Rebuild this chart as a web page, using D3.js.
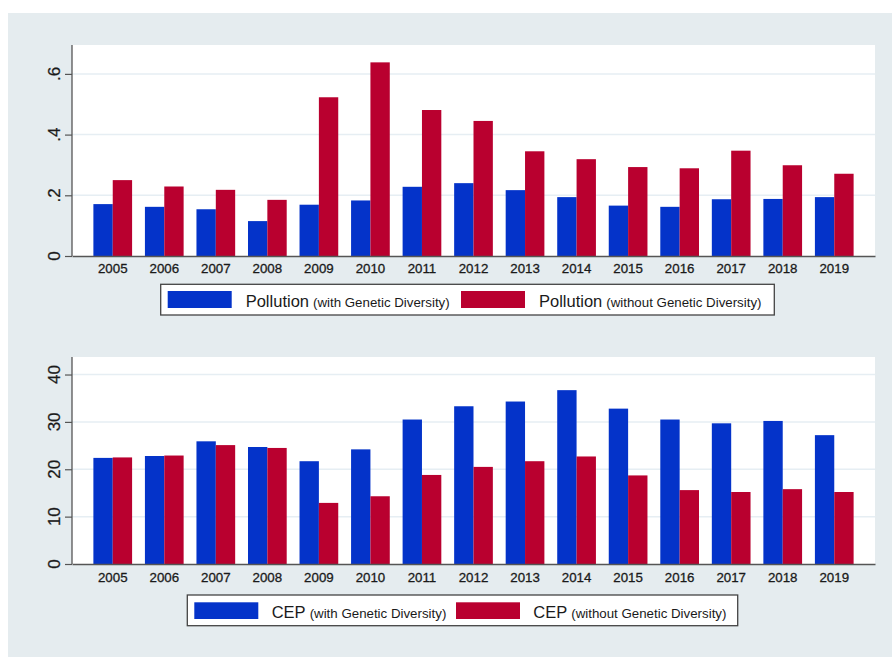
<!DOCTYPE html>
<html><head><meta charset="utf-8">
<script src="https://cdn.jsdelivr.net/npm/d3@7"></script>
<style>
html,body{margin:0;padding:0;background:#fff;}
text{font-family:"Liberation Sans",Arial,Helvetica,sans-serif;fill:#1a1a1a;}
</style></head>
<body>
<svg id="c" width="892" height="657"></svg>
<script>
const years = ["2005","2006","2007","2008","2009","2010","2011","2012","2013","2014","2015","2016","2017","2018","2019"];
const pollutionWith    = [0.171,0.162,0.154,0.115,0.169,0.183,0.228,0.240,0.217,0.194,0.166,0.162,0.187,0.188,0.194];
const pollutionWithout = [0.250,0.229,0.218,0.185,0.523,0.638,0.481,0.445,0.345,0.319,0.293,0.289,0.347,0.299,0.271];
const cepWith    = [22.4,22.8,25.9,24.7,21.7,24.2,30.5,33.3,34.3,36.7,32.8,30.5,29.7,30.2,27.2];
const cepWithout = [22.5,22.9,25.1,24.5,12.9,14.3,18.8,20.5,21.7,22.7,18.7,15.6,15.2,15.8,15.2];
const pollutionTicks = [0,0.2,0.4,0.6];
const pollutionTickLabels = ["0",".2",".4",".6"];
const cepTicks = [0,10,20,30,40];
const cepTickLabels = ["0","10","20","30","40"];
const legendPollution = [["Pollution","(with Genetic Diversity)"],["Pollution","(without Genetic Diversity)"]];
const legendCEP = [["CEP","(with Genetic Diversity)"],["CEP","(without Genetic Diversity)"]];

const BLUE = "#0433c9", RED = "#b9002f";
const svg = d3.select("#c");

// outer panel
svg.append("rect").attr("x",8).attr("y",13).attr("width",884).attr("height",644).attr("fill","#e5ecef");

const x = d3.scaleBand().domain(years).range([72,875]).paddingInner(0.249).paddingOuter(0.415);
const xs = d3.scaleBand().domain([0,1]).range([0, x.bandwidth()]);

function panel(opts){
  const {top, base, ymax, ticks, tickLabels, s1, s2, labelY, legend, lg} = opts;
  const y = d3.scaleLinear().domain([0,ymax]).range([base, top]);
  const g = svg.append("g");
  g.append("rect").attr("x",72).attr("y",top).attr("width",803).attr("height",base-top).attr("fill","#fff");
  // gridlines
  g.selectAll(".grid").data(ticks.filter(t=>t>0)).enter().append("line")
    .attr("x1",72).attr("x2",875).attr("y1",d=>y(d)).attr("y2",d=>y(d))
    .attr("stroke","#e6eef3").attr("stroke-width",1.5);
  // bars
  const data = years.map((yr,i)=>({yr, v:[s1[i], s2[i]]}));
  const grp = g.selectAll(".grp").data(data).enter().append("g").attr("transform",d=>`translate(${x(d.yr)},0)`);
  grp.selectAll("rect").data(d=>d.v.map((v,k)=>({v,k}))).enter().append("rect")
    .attr("x",d=>xs(d.k)).attr("width",xs.bandwidth())
    .attr("y",d=>y(d.v)).attr("height",d=>base-y(d.v))
    .attr("fill",d=>d.k===0?BLUE:RED);
  // y axis
  const ya = d3.axisLeft(y).tickValues(ticks).tickSize(7).tickFormat("");
  const yg = g.append("g").attr("transform","translate(72,0)").call(ya);
  yg.select(".domain").remove();
  yg.selectAll(".tick line").attr("stroke","#555").attr("stroke-width",1.2);
  g.append("line").attr("x1",72).attr("x2",72).attr("y1",top).attr("y2",base).attr("stroke","#555").attr("stroke-width",1.3);
  g.selectAll(".ylab").data(ticks).enter().append("text")
    .attr("transform",(d)=>`translate(59.5,${y(d)}) rotate(-90)`)
    .attr("text-anchor","middle").style("font-size","17px")
    .attr("stroke","#1a1a1a").attr("stroke-width",0.25)
    .text((d,i)=>tickLabels[i]);
  // x axis
  const xa = d3.axisBottom(x).tickSize(0).tickPadding(0);
  const xg = g.append("g").attr("transform",`translate(0,${base})`).call(xa);
  xg.select(".domain").attr("stroke","#555").attr("stroke-width",1.3);
  xg.selectAll(".tick text").attr("y",labelY-base).attr("dy",0)
    .style("font-size","13.3px").style("font-family",'"Liberation Sans",Arial,sans-serif')
    .attr("fill","#1a1a1a").attr("stroke","#1a1a1a").attr("stroke-width",0.3);
  // legend
  g.append("rect").attr("x",lg.x0).attr("y",lg.y0).attr("width",lg.x1-lg.x0).attr("height",lg.y1-lg.y0)
    .attr("fill","#fff").attr("stroke","#444").attr("stroke-width",1.3);
  legend.forEach((l,k)=>{
    g.append("rect").attr("x",lg.sw[k]).attr("y",lg.sy0).attr("width",64).attr("height",lg.sy1-lg.sy0)
      .attr("fill",k===0?BLUE:RED);
    const t = g.append("text").attr("x",lg.tx[k]).attr("y",lg.ty);
    t.append("tspan").style("font-size","16.5px").text(l[0]);
    t.append("tspan").style("font-size","13.3px").attr("dx",4).text(l[1]);
  });
}

panel({top:45, base:256, ymax:0.6952, ticks:pollutionTicks, tickLabels:pollutionTickLabels,
  s1:pollutionWith, s2:pollutionWithout, labelY:273.3, legend:legendPollution,
  lg:{x0:160.7,x1:774.3,y0:284.3,y1:315,sw:[167.7,461],sy0:291,sy1:308,tx:[245.7,539],ty:307}});

panel({top:357, base:564, ymax:43.7, ticks:cepTicks, tickLabels:cepTickLabels,
  s1:cepWith, s2:cepWithout, labelY:582, legend:legendCEP,
  lg:{x0:187.3,x1:737.7,y0:595,y1:625.7,sw:[194.3,456],sy0:602.3,sy1:619,tx:[271.7,533.3],ty:618.3}});
</script>
</body></html>
